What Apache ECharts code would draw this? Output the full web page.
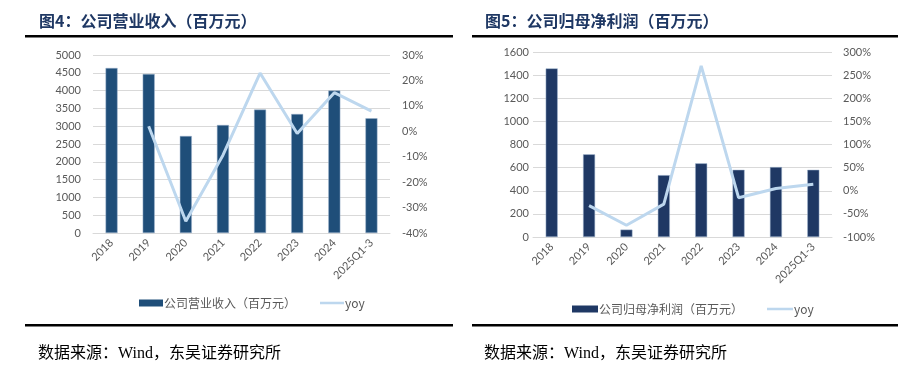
<!DOCTYPE html>
<html><head><meta charset="utf-8">
<script src="https://cdn.jsdelivr.net/npm/echarts@6/dist/echarts.min.js"></script>
<style>html,body{margin:0;padding:0;background:#fff}#c{width:919px;height:367px}</style>
</head><body><div id="c"></div>
<script>
const categories = ['2018','2019','2020','2021','2022','2023','2024','2025Q1-3'];
const revenue = [4635, 4466, 2725, 3034, 3466, 3343, 4000, 3222];
const revenueYoy = [null, 2.0, -35.4, -9.4, 22.9, -0.9, 15.2, 7.9];
const netProfit = [1458, 715, 64, 535, 637, 581, 605, 581];
const netProfitYoy = [null, -32, -74.6, -29, 270, -15, 5, 14];
const leftTicksPct = [-40, 30, 10];
const rightTicksPct = [-100, 300, 50];

const chart = echarts.init(document.getElementById('c'));
const gray = '#595959', gridC = '#d9d9d9';
const lbl = {color: gray, fontSize: 11, fontFamily: 'Lato, "Noto Sans CJK SC"'};
const lineIcon = 'path://M0,2.2h26v2.6H0z M0,0h0.01v0.01H0z M25.99,6.99h0.01V7h-0.01z';
const catAxis = (gi) => ({
  type: 'category', gridIndex: gi, data: categories,
  axisTick: {show: false}, axisLine: {lineStyle: {color: gridC}},
  axisLabel: Object.assign({rotate: 45, interval: 0, margin: 8}, lbl)
});
const srcStyle = {color: '#000', fontSize: 16, fontWeight: 'normal', fontFamily: '"Liberation Serif", "Noto Sans CJK SC"'};
const ttlStyle = {color: '#1F3864', fontSize: 16, fontWeight: 'bold', fontFamily: '"Noto Sans CJK SC"'};
chart.setOption({
  animation: false,
  title: [
    {text: '图4：公司营业收入（百万元）', left: 34, top: 8, textStyle: ttlStyle},
    {text: '图5：公司归母净利润（百万元）', left: 480, top: 8, textStyle: ttlStyle},
    {text: '数据来源：Wind，东吴证券研究所', left: 33, top: 341, textStyle: srcStyle},
    {text: '数据来源：Wind，东吴证券研究所', left: 479, top: 341, textStyle: srcStyle}
  ],
  graphic: [
    {type: 'rect', shape: {x: 25, y: 35, width: 428, height: 2.5}, style: {fill: '#000'}},
    {type: 'rect', shape: {x: 472, y: 35, width: 426, height: 2.5}, style: {fill: '#000'}},
    {type: 'rect', shape: {x: 25, y: 324, width: 428, height: 2.5}, style: {fill: '#000'}},
    {type: 'rect', shape: {x: 472, y: 324, width: 426, height: 2.5}, style: {fill: '#000'}}
  ],
  legend: [
    {left: 134, top: 292, itemWidth: 24, itemHeight: 7, itemGap: 24, itemStyle: {borderWidth: 0},
     data: [{name: '公司营业收入（百万元）', icon: 'rect'}, {name: 'yoy', icon: lineIcon}],
     textStyle: {color: gray, fontSize: 12, fontFamily: '"Noto Sans CJK SC"', padding: [0,0,0,-4]}},
    {left: 567, top: 298, itemWidth: 26, itemHeight: 7, itemGap: 24, itemStyle: {borderWidth: 0},
     data: [{name: '公司归母净利润（百万元）', icon: 'rect'}, {name: 'yoy2', icon: lineIcon}],
     formatter: n => n === 'yoy2' ? 'yoy' : n,
     textStyle: {color: gray, fontSize: 12, fontFamily: '"Noto Sans CJK SC"', padding: [0,0,0,-4]}}
  ],
  grid: [
    {left: 93, right: 529, top: 55, bottom: 134},
    {left: 533, right: 87, top: 52, bottom: 130}
  ],
  xAxis: [catAxis(0), catAxis(1)],
  yAxis: [
    {type: 'value', gridIndex: 0, min: 0, max: 5000, interval: 500, axisLine: {show: false}, axisTick: {show: false},
     splitLine: {lineStyle: {color: gridC}}, axisLabel: Object.assign({margin: 12, formatter: v => String(v)}, lbl)},
    {type: 'value', gridIndex: 0, min: leftTicksPct[0], max: leftTicksPct[1], interval: leftTicksPct[2], axisLine: {show: false}, axisTick: {show: false},
     splitLine: {show: false}, axisLabel: Object.assign({margin: 12, formatter: v => v + '%'}, lbl)},
    {type: 'value', gridIndex: 1, min: 0, max: 1600, interval: 200, axisLine: {show: false}, axisTick: {show: false},
     splitLine: {lineStyle: {color: gridC}}, axisLabel: Object.assign({margin: 4, formatter: v => String(v)}, lbl)},
    {type: 'value', gridIndex: 1, min: rightTicksPct[0], max: rightTicksPct[1], interval: rightTicksPct[2], axisLine: {show: false}, axisTick: {show: false},
     splitLine: {show: false}, axisLabel: Object.assign({margin: 11, formatter: v => v + '%'}, lbl)}
  ],
  series: [
    {name: '公司营业收入（百万元）', type: 'bar', xAxisIndex: 0, yAxisIndex: 0, data: revenue, barWidth: 12,
     itemStyle: {color: '#1F4E79', borderColor: '#9DB3CC', borderWidth: 0.5}},
    {name: 'yoy', type: 'line', xAxisIndex: 0, yAxisIndex: 1, data: revenueYoy, symbol: 'none',
     lineStyle: {color: '#BDD7EE', width: 3}, itemStyle: {color: '#BDD7EE'}},
    {name: '公司归母净利润（百万元）', type: 'bar', xAxisIndex: 1, yAxisIndex: 2, data: netProfit, barWidth: 12,
     itemStyle: {color: '#1F3864', borderColor: '#9DB3CC', borderWidth: 0.5}},
    {name: 'yoy2', type: 'line', xAxisIndex: 1, yAxisIndex: 3, data: netProfitYoy, symbol: 'none',
     lineStyle: {color: '#BDD7EE', width: 3}, itemStyle: {color: '#BDD7EE'}}
  ]
});
</script></body></html>
